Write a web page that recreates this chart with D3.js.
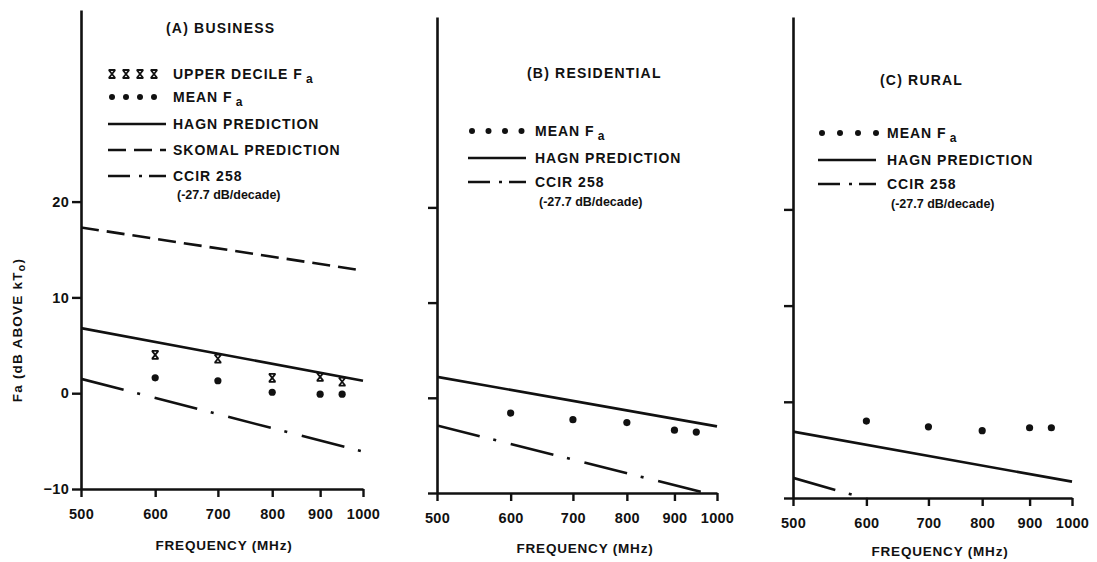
<!DOCTYPE html>
<html>
<head>
<meta charset="utf-8">
<script src="https://cdn.jsdelivr.net/npm/d3@7/dist/d3.min.js"></script>
<style>
  html, body { margin: 0; padding: 0; background: #fff; }
  svg { display: block; }
  text { font-family: "Liberation Sans", Arial, Helvetica, sans-serif; fill: #111; }
</style>
</head>
<body>
<svg id="chart" width="1097" height="562"></svg>
<script>
// Frequencies (MHz)
const freqTicks = [500, 600, 700, 800, 900, 1000];
const measuredFreqs = [600, 700, 800, 900, 950];
const lineFreqs = [500, 1000];
const yTicks = [-10, 0, 10, 20];

// Measured Fa (dB above kTo)
const businessUpperDecile = [4.0, 3.6, 1.6, 1.7, 1.2];
const businessMean = [1.6, 1.3, 0.1, -0.1, -0.1];
const residentialMean = [-1.6, -2.3, -2.6, -3.4, -3.6];
const ruralMean = [-2.0, -2.6, -3.0, -2.7, -2.7];

// Predictions at 500 and 1000 MHz
const businessHagn = [6.8, 1.3];
const businessSkomal = [17.3, 12.8];
const businessCcir = [1.5, -6.1];
const residentialHagn = [2.2, -3.0];
const residentialCcir = [-2.9, -10.3];
const ruralHagn = [-3.1, -8.3];
const ruralCcir = [-7.9, -16.2];

const panelTitles = ["(A) BUSINESS", "(B) RESIDENTIAL", "(C) RURAL"];

const svg = d3.select("#chart");
const INK = "#111";

// Panel geometry
const panels = [
  {
    title: panelTitles[0], x0: 81, x1: 363, yTop: 10, yBot: 489, labels: true,
    titleX: 166, titleY: 33, legX: 108, legText: 173, symStep: 14,
    rows: [74, 97, 124, 150, 176, 195],
    items: ["upper", "mean", "hagn", "skomal", "ccir"],
    upper: businessUpperDecile, mean: businessMean,
    hagn: businessHagn, skomal: businessSkomal, ccir: businessCcir,
    xlabX: 224, xlabY: 550
  },
  {
    title: panelTitles[1], x0: 437, x1: 717, yTop: 17, yBot: 493, labels: false,
    titleX: 527, titleY: 78, legX: 468, legText: 535, symStep: 16.5,
    rows: [131, 158, 182, 202],
    items: ["mean", "hagn", "ccir"],
    mean: residentialMean, hagn: residentialHagn, ccir: residentialCcir,
    xlabX: 585, xlabY: 553
  },
  {
    title: panelTitles[2], x0: 793, x1: 1072, yTop: 17, yBot: 498, labels: false,
    titleX: 880, titleY: 85, legX: 818, legText: 887, symStep: 18,
    rows: [133, 160, 184, 204],
    items: ["mean", "hagn", "ccir"],
    mean: ruralMean, hagn: ruralHagn, ccir: ruralCcir,
    xlabX: 940, xlabY: 556
  }
];

const styles = {
  hagn: null,
  skomal: "18,8",
  ccir: "44,14,3,15"
};

// Upper-decile marker: an X closed by short bars top and bottom
const xMark = "M-3.2,-4 L3.2,4 M3.2,-4 L-3.2,4 M-3.4,-4 H3.4 M-3.4,4 H3.4";

panels.forEach((p, i) => {
  const x = d3.scaleLog().domain([500, 1000]).range([p.x0, p.x1]);
  const y = d3.scaleLinear().domain([-10, 40]).range([p.yBot, p.yTop]);
  const g = svg.append("g");

  const clipId = "clip" + i;
  svg.append("clipPath").attr("id", clipId)
    .append("rect").attr("x", p.x0).attr("y", p.yTop)
    .attr("width", p.x1 - p.x0 + 2).attr("height", p.yBot - p.yTop);

  // Axes
  const yAxis = d3.axisLeft(y).tickValues(yTicks).tickSize(9).tickPadding(3).tickSizeOuter(0)
    .tickFormat(p.labels ? d3.format("d") : () => "");
  const ya = g.append("g").attr("transform", `translate(${p.x0},0)`).call(yAxis);
  const xAxis = d3.axisBottom(x).tickValues(freqTicks).tickSize(8).tickPadding(12).tickSizeOuter(0)
    .tickFormat(d3.format("d"));
  const xa = g.append("g").attr("transform", `translate(0,${p.yBot})`).call(xAxis);
  [ya, xa].forEach(a => {
    a.select(".domain").attr("stroke", INK).attr("stroke-width", 2.6);
    a.selectAll(".tick line").attr("stroke", INK).attr("stroke-width", 2.4);
    a.selectAll(".tick text").attr("font-size", 14.5).attr("font-weight", "bold")
      .attr("fill", INK).attr("letter-spacing", 0.3)
      .style("font-family", '"Liberation Sans", Arial, sans-serif');
  });

  g.append("text")
    .attr("x", p.xlabX).attr("y", p.xlabY)
    .attr("text-anchor", "middle").attr("font-size", 13.5).attr("font-weight", "bold")
    .attr("letter-spacing", 0.8)
    .text("FREQUENCY (MHz)");

  // Title
  g.append("text").attr("x", p.titleX).attr("y", p.titleY)
    .attr("font-size", 14).attr("font-weight", "bold").attr("letter-spacing", 1.2)
    .text(p.title);

  // Prediction lines
  const line = d3.line().x(d => x(d[0])).y(d => y(d[1]));
  ["skomal", "hagn", "ccir"].forEach(k => {
    if (!p[k]) return;
    g.append("path")
      .attr("clip-path", `url(#${clipId})`)
      .datum(lineFreqs.map((f, j) => [f, p[k][j]]))
      .attr("d", line).attr("fill", "none").attr("stroke", INK)
      .attr("stroke-width", 2.6)
      .attr("stroke-dasharray", styles[k]);
  });

  // Measured points
  if (p.upper) {
    g.selectAll(".up").data(measuredFreqs.map((f, j) => [f, p.upper[j]])).join("path")
      .attr("transform", d => `translate(${x(d[0])},${y(d[1])})`)
      .attr("d", xMark).attr("fill", "none").attr("stroke", INK).attr("stroke-width", 1.8);
  }
  g.selectAll(".mn").data(measuredFreqs.map((f, j) => [f, p.mean[j]])).join("circle")
    .attr("cx", d => x(d[0])).attr("cy", d => y(d[1])).attr("r", 3.6).attr("fill", INK);

  // Legend
  const lg = g.append("g");
  const labelFor = {
    upper: ["UPPER DECILE F", "a"],
    mean: ["MEAN F", "a"],
    hagn: ["HAGN PREDICTION"],
    skomal: ["SKOMAL PREDICTION"],
    ccir: ["CCIR 258"]
  };
  p.items.forEach((k, j) => {
    const cy = p.rows[j];
    const sx = [0, 1, 2, 3].map(n => p.legX + 4 + n * p.symStep);
    if (k === "upper") {
      sx.forEach(v => lg.append("path").attr("transform", `translate(${v},${cy})`)
        .attr("d", xMark).attr("fill", "none").attr("stroke", INK).attr("stroke-width", 1.8));
    } else if (k === "mean") {
      sx.forEach(v => lg.append("circle").attr("cx", v).attr("cy", cy).attr("r", 3).attr("fill", INK));
    } else {
      lg.append("line").attr("x1", p.legX).attr("x2", p.legX + 58).attr("y1", cy).attr("y2", cy)
        .attr("stroke", INK).attr("stroke-width", 2.6)
        .attr("stroke-dasharray", k === "ccir" ? "22,9,3,7" : styles[k]);
    }
    const t = lg.append("text").attr("x", p.legText).attr("y", cy + 5)
      .attr("font-size", 14).attr("font-weight", "bold").attr("letter-spacing", 1);
    t.append("tspan").text(labelFor[k][0]);
    if (labelFor[k][1]) {
      t.append("tspan").attr("dx", 3).attr("dy", 4).attr("font-size", 12).text(labelFor[k][1]);
    }
    if (k === "ccir") {
      lg.append("text").attr("x", p.legText + 4).attr("y", p.rows[j + 1] + 4)
        .attr("font-size", 12.5).attr("font-weight", "bold")
        .text("(-27.7 dB/decade)");
    }
  });
});

// Shared y-axis title
const yl = svg.append("text")
  .attr("transform", "translate(22,330) rotate(-90)")
  .attr("text-anchor", "middle").attr("font-size", 13.5).attr("font-weight", "bold")
  .attr("letter-spacing", 1.2);
yl.append("tspan").text("Fa (dB ABOVE  kT");
yl.append("tspan").attr("dy", 3).attr("font-size", 11).text("o");
yl.append("tspan").attr("dy", -3).text(")");
</script>
</body>
</html>
